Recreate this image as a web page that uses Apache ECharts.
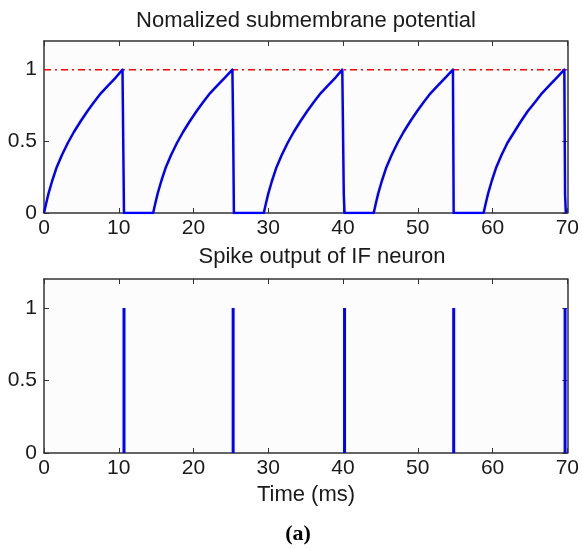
<!DOCTYPE html>
<html>
<head>
<meta charset="utf-8">
<script src="https://cdn.jsdelivr.net/npm/echarts@6/dist/echarts.min.js"></script>
<style>
  html, body { margin: 0; padding: 0; background: #fff; }
  #chart { width: 582px; height: 548px; }
</style>
</head>
<body>
<div id="chart"></div>
<script>
// membrane potential, one rise + reset per cycle (time in ms, normalized value)
const cycle1 = [[0, 0], [0.3, 0.07], [0.6, 0.135], [1.1, 0.225], [1.7, 0.32], [2.4, 0.405], [3.2, 0.49], [4.0, 0.565],
  [4.9, 0.64], [5.8, 0.71], [6.7, 0.775], [7.6, 0.835], [8.6, 0.89], [9.6, 0.945], [10.5, 1.0],
  [10.7, 1.0], [10.7, 0]];
const cycle2 = [[14.6, 0], [14.9, 0.07], [15.2, 0.135], [15.7, 0.225], [16.3, 0.32], [17.0, 0.405], [17.8, 0.49], [18.6, 0.565],
  [19.5, 0.64], [20.4, 0.71], [21.3, 0.775], [22.2, 0.835], [23.2, 0.89], [24.2, 0.945], [25.2, 1.0],
  [25.3, 1.0], [25.3, 0.6], [25.4, 0.6], [25.4, 0]];
const cycle3 = [[29.4, 0], [29.7, 0.07], [30.0, 0.135], [30.5, 0.225], [31.1, 0.32], [31.8, 0.405], [32.6, 0.49], [33.4, 0.565],
  [34.3, 0.64], [35.2, 0.71], [36.1, 0.775], [37.0, 0.835], [38.0, 0.89], [39.0, 0.945], [39.9, 1.0],
  [40.1, 1.0], [40.1, 0.13], [40.2, 0.13], [40.2, 0]];
const cycle4 = [[44.1, 0], [44.4, 0.07], [44.7, 0.135], [45.2, 0.225], [45.8, 0.32], [46.5, 0.405], [47.3, 0.49], [48.1, 0.565],
  [49.0, 0.64], [49.9, 0.71], [50.8, 0.775], [51.7, 0.835], [52.7, 0.89], [53.7, 0.945], [54.7, 1.0],
  [54.8, 1.0], [54.8, 0]];
const cycle5 = [[58.8, 0], [59.1, 0.07], [59.4, 0.135], [59.9, 0.225], [60.5, 0.32], [61.2, 0.405], [62.0, 0.49], [62.9, 0.565],
  [63.8, 0.64], [64.7, 0.71], [65.7, 0.775], [66.6, 0.835], [67.6, 0.89], [68.6, 0.945], [69.6, 1.0],
  [69.7, 1.0], [69.7, 0.13], [69.8, 0.13], [69.8, 0]];

const threshold = 1;
const spikeTimes = [10.7, 25.3, 40.2, 54.8, 69.7];
const xTicks = [0, 10, 20, 30, 40, 50, 60, 70];
const yTicks = [0, 0.5, 1];

const potential = [].concat(cycle1, cycle2, cycle3, cycle4, cycle5);
const spikes = spikeTimes.map(t => [t, 1]);

const chart = echarts.init(document.getElementById('chart'), null, { renderer: 'canvas' });

const FONT = 'Liberation Sans, Arial, sans-serif';
const AXIS = '#333';
const TEXT = '#1a1a1a';

function xAx(grid, pos, labels) {
  return {
    type: 'value', gridIndex: grid, position: pos, min: 0, max: 70, interval: 10,
    axisLine: { show: true, onZero: false, lineStyle: { color: AXIS, width: 1.5 } },
    axisTick: { show: true, inside: true, length: 5, lineStyle: { color: AXIS } },
    axisLabel: { show: labels, margin: 5, color: TEXT, fontFamily: FONT, fontSize: 21 },
    splitLine: { show: false }
  };
}
function yAx(grid, pos, labels) {
  return {
    type: 'value', gridIndex: grid, position: pos, min: 0, max: 1.2,
    axisLine: { show: true, onZero: false, lineStyle: { color: AXIS, width: 1.5 } },
    axisTick: { show: true, inside: true, length: 5, customValues: yTicks, lineStyle: { color: AXIS } },
    axisLabel: { show: labels, margin: 7, color: TEXT, fontFamily: FONT, fontSize: 21, customValues: yTicks },
    splitLine: { show: false }
  };
}

const option = {
  animation: false,
  backgroundColor: '#fff',
  grid: [
    { left: 44, right: 13, top: 41, height: 172, backgroundColor: '#fcfcfc', show: true, borderWidth: 0 },
    { left: 44, right: 13, top: 279, height: 174, backgroundColor: '#fcfcfc', show: true, borderWidth: 0 }
  ],
  xAxis: [xAx(0, 'bottom', true), xAx(1, 'bottom', true), xAx(0, 'top', false), xAx(1, 'top', false)],
  yAxis: [yAx(0, 'left', true), yAx(1, 'left', true), yAx(0, 'right', false), yAx(1, 'right', false)],
  series: [
    {
      type: 'line', xAxisIndex: 0, yAxisIndex: 0, symbol: 'none',
      data: [[xTicks[0], threshold], [xTicks[xTicks.length - 1], threshold]],
      lineStyle: { color: '#ff0000', width: 1.5, type: [7, 4, 2, 4] }
    },
    {
      type: 'line', xAxisIndex: 0, yAxisIndex: 0, symbol: 'none',
      data: potential,
      lineStyle: { color: '#0000ff', width: 2.5, join: 'round' }
    },
    {
      type: 'bar', xAxisIndex: 1, yAxisIndex: 1, barWidth: 3,
      data: spikes,
      itemStyle: { color: '#0000ff' }
    }
  ],
  graphic: [
    { type: 'text', x: 306, y: 21, style: { text: 'Nomalized submembrane potential', font: '22px ' + FONT, fill: TEXT, textAlign: 'center', textVerticalAlign: 'middle' } },
    { type: 'text', x: 322, y: 257, style: { text: 'Spike output of IF neuron', font: '22px ' + FONT, fill: TEXT, textAlign: 'center', textVerticalAlign: 'middle' } },
    { type: 'text', x: 306, y: 495, style: { text: 'Time (ms)', font: '22px ' + FONT, fill: TEXT, textAlign: 'center', textVerticalAlign: 'middle' } },
    { type: 'text', x: 298, y: 534, style: { text: '(a)', font: 'bold 22px Liberation Serif, Times New Roman, serif', fill: '#000', textAlign: 'center', textVerticalAlign: 'middle' } }
  ]
};

chart.setOption(option);
</script>
</body>
</html>
